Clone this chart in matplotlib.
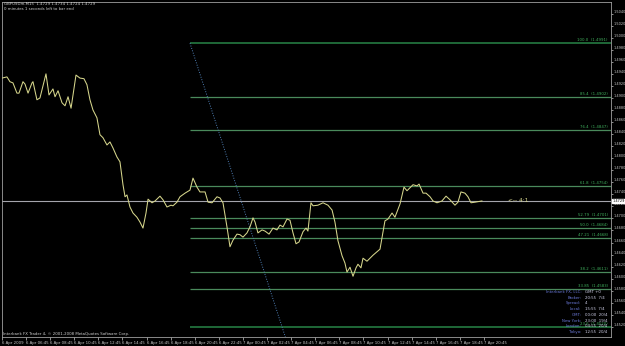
import matplotlib
matplotlib.use('Agg')
import matplotlib.pyplot as plt
from matplotlib.ticker import MultipleLocator, FormatStrFormatter
import matplotlib.transforms as mtransforms

# hours since 6 Apr 2009 04:45 and close price
t = [0.00, 0.41, 0.66, 0.91, 1.24, 1.41, 1.74, 1.91, 2.16, 2.49, 2.57, 2.90, 3.15, 3.65, 3.90,
     4.23, 4.40, 4.65, 4.98, 5.23, 5.48, 5.73, 6.14, 6.47, 6.80, 7.05, 7.30, 7.55, 7.88, 8.13,
     8.38, 8.71, 8.96, 9.21, 9.54, 9.79, 10.04, 10.21, 10.37, 10.62, 10.87, 11.20, 11.45, 11.70,
     11.95, 12.12, 12.45, 12.70, 13.11, 13.36, 13.69, 14.02, 14.19, 14.52, 14.77, 15.19, 15.60,
     15.85, 16.18, 16.43, 16.85, 17.10, 17.43, 17.84, 18.09, 18.34, 18.67, 18.92, 19.17, 19.50,
     19.75, 20.00, 20.33, 20.58, 20.83, 21.00, 21.24, 21.58, 21.83, 22.16, 22.49, 22.82, 23.07,
     23.32, 23.65, 23.90, 24.15, 24.40, 24.65, 24.98, 25.23, 25.39, 25.64, 25.81, 26.22, 26.64,
     27.05, 27.39, 27.63, 27.88, 28.22, 28.46, 28.63, 28.88, 29.13, 29.38, 29.54, 29.79, 29.96,
     30.29, 30.79, 31.37, 31.78, 32.03, 32.37, 32.61, 33.03, 33.36, 33.61, 33.86, 34.11, 34.44,
     34.61, 34.94, 35.19, 35.52, 35.77, 36.10, 36.51, 36.85, 37.18, 37.59, 37.84, 38.09, 38.42,
     38.67, 38.92, 39.25, 39.83]
price = [1.4933, 1.4935, 1.4927, 1.4925, 1.4908, 1.4908, 1.4927, 1.4923, 1.4908, 1.4925, 1.4927,
         1.4897, 1.4900, 1.4940, 1.4905, 1.4915, 1.4902, 1.4912, 1.4892, 1.4887, 1.4902, 1.4883,
         1.4938, 1.4933, 1.4932, 1.4922, 1.4897, 1.4880, 1.4867, 1.4839, 1.4834, 1.4822, 1.4827,
         1.4817, 1.4802, 1.4794, 1.4756, 1.4736, 1.4739, 1.4719, 1.4709, 1.4702, 1.4694, 1.4684,
         1.4709, 1.4732, 1.4726, 1.4729, 1.4737, 1.4731, 1.4719, 1.4722, 1.4721, 1.4727, 1.4736,
         1.4742, 1.4747, 1.4767, 1.4752, 1.4744, 1.4744, 1.4727, 1.4726, 1.4736, 1.4734, 1.4726,
         1.4686, 1.4653, 1.4664, 1.4674, 1.4673, 1.4669, 1.4676, 1.4686, 1.4701, 1.4694, 1.4676,
         1.4681, 1.4679, 1.4674, 1.4684, 1.4681, 1.4689, 1.4686, 1.4699, 1.4697, 1.4676, 1.4658,
         1.4661, 1.4678, 1.4684, 1.4679, 1.4726, 1.4721, 1.4722, 1.4726, 1.4722, 1.4714, 1.4694,
         1.4663, 1.4638, 1.4626, 1.4611, 1.4619, 1.4604, 1.4618, 1.4624, 1.4618, 1.4634, 1.4629,
         1.4639, 1.4649, 1.4696, 1.4699, 1.4709, 1.4702, 1.4724, 1.4752, 1.4746, 1.4751, 1.4756,
         1.4754, 1.4757, 1.4742, 1.4742, 1.4736, 1.4729, 1.4726, 1.4729, 1.4737, 1.4731, 1.4722,
         1.4727, 1.4744, 1.4742, 1.4736, 1.4726, 1.4727, 1.4729]

last_price = 1.4729

# fibonacci object
fib_pct = ["100.0", "85.4", "76.4", "61.8", "52.79", "50.0", "47.21", "38.2", "33.85", "23.6"]
fib_price = [1.4991, 1.4902, 1.4847, 1.4754, 1.4701, 1.4684, 1.4668, 1.4611, 1.4583, 1.4520]
fib_anchor_t = [15.60, 25.56]
fib_anchor_p = [1.4991, 1.4377]

tick_hours = list(range(0, 41, 2))
time_labels = ["6 Apr 2009", "6 Apr 06:45", "6 Apr 08:45", "6 Apr 10:45", "6 Apr 12:45",
               "6 Apr 14:45", "6 Apr 16:45", "6 Apr 18:45", "6 Apr 20:45", "6 Apr 22:45",
               "7 Apr 00:45", "7 Apr 02:45", "7 Apr 04:45", "7 Apr 06:45", "7 Apr 08:45",
               "7 Apr 10:45", "7 Apr 12:45", "7 Apr 14:45", "7 Apr 16:45", "7 Apr 18:45",
               "7 Apr 20:45"]

info_keys = ["Interbank FX, LLC:", "Broker:", "Spread:", "Local:", "GMT:", "New York:", "London:", "Tokyo:"]
info_vals = ["GMT +0", "20:55  7/4", "4", "15:55  7/4", "00:00  20/4", "23:00  19/4", "04:55  20/4", "12:55  20/4"]

x_left, x_right = 0.0, 50.54
y_low, y_high = 1.45032, 1.50593

fs = 2.8
fig = plt.figure(figsize=(6.25, 3.46), dpi=100, facecolor='black')
ax = fig.add_axes([2/625, 9/346, 609/625, 335/346])
ax.set_facecolor('black')

ax.axhline(last_price, color='#a4a4ac', lw=0.8, zorder=1)
ax.hlines(fib_price[1:-1], fib_anchor_t[0], x_right, colors='#4a8a5c', lw=0.9, zorder=1)
ax.hlines([fib_price[0], fib_price[-1]], fib_anchor_t[0], x_right, colors='#22703c', lw=1.3, zorder=1)
ax.plot(fib_anchor_t, fib_anchor_p, color='#4f7fb4', lw=0.7, ls=(0, (1, 1.6)), zorder=2)
ax.plot(t, price, color='#d6d68c', lw=0.75, zorder=3)

for pct, p in zip(fib_pct, fib_price):
    ax.text(x_right - 0.25, p + 0.00012, f"{pct}  ({p:.4f})", ha='right', va='bottom',
            fontsize=fs, color='#3fae5c', zorder=4)

ax.text(42.0, last_price, "<-- 4:1", fontsize=4.2, color='#d6d68c', va='center', ha='left')

ax.set_xlim(x_left, x_right)
ax.set_ylim(y_low, y_high)

ax.set_xticks(tick_hours)
ax.set_xticklabels(time_labels, ha='left')
ax.tick_params(axis='x', length=2, width=0.5, pad=0.8, labelsize=fs, colors='#c8c8c8')

ax.yaxis.tick_right()
ax.yaxis.set_major_locator(MultipleLocator(0.002))
ax.yaxis.set_major_formatter(FormatStrFormatter('%.4f'))
ax.tick_params(axis='y', length=1.5, width=0.5, pad=0.6, labelsize=2.5, colors='#c8c8c8')
for lab in ax.get_yticklabels():
    lab.set_va('bottom')

for s in ax.spines.values():
    s.set_color('#a0a0a0')
    s.set_linewidth(0.6)

# current price box on the price scale
trans = mtransforms.blended_transform_factory(ax.transAxes, ax.transData)
ax.text(1.002, last_price, f"{last_price:.4f}", transform=trans, fontsize=2.5, color='black',
        va='center', ha='left', clip_on=False, zorder=6,
        bbox=dict(boxstyle='square,pad=0.1', fc='white', ec='white'))

# info panel
row_y = [292, 298, 303, 309, 315, 321, 326, 332]
for k, v, yy in zip(info_keys, info_vals, row_y):
    fy = (337 - yy) / 335
    ax.text(0.951, fy, k, transform=ax.transAxes, fontsize=fs, color='#6a78d8', ha='right', va='center', zorder=5)
    ax.text(0.957, fy, v, transform=ax.transAxes, fontsize=fs, color='#d0d0e8', ha='left', va='center', zorder=5)

ax.text(0.002, 0.009, "Interbank FX Trader 4, \u00a9 2001-2008 MetaQuotes Software Corp.",
        transform=ax.transAxes, fontsize=fs, color='#d0d0d0', ha='left', va='center')

fig.text(4/625, 1 - 4/346, "GBPUSDm,M15  1.4729 1.4734 1.4724 1.4729", fontsize=fs,
         color='#d0d0d0', ha='left', va='center')
fig.text(4/625, 1 - 9/346, "0 minutes 1 seconds left to bar end", fontsize=fs,
         color='#d0d0d0', ha='left', va='center')

fig.savefig('out.png', dpi=100, facecolor='black')
